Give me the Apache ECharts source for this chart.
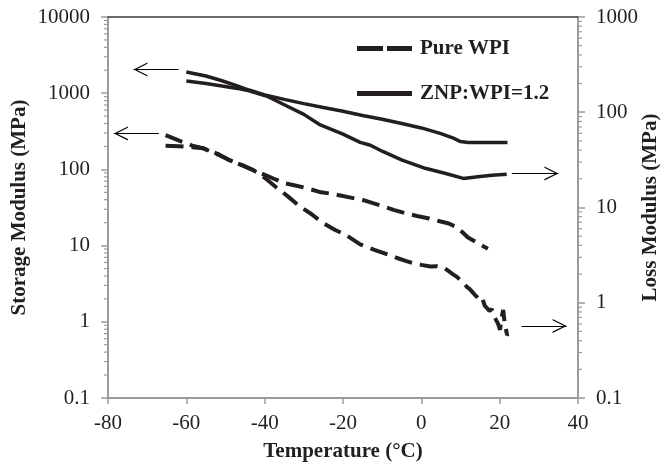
<!DOCTYPE html>
<html>
<head>
<meta charset="utf-8">
<script src="https://cdn.jsdelivr.net/npm/echarts@6/dist/echarts.min.js"></script>
<style>
html,body{margin:0;padding:0;background:#fff;}
#chart{width:661px;height:463px;}
</style>
</head>
<body>
<div id="chart"></div>
<script>
// ---- data ----
const xTicks = [-80, -60, -40, -20, 0, 20, 40];
const leftTickLabels = ['0.1', '1', '10', '100', '1000', '10000'];
const rightTickLabels = ['0.1', '1', '10', '100', '1000'];

const pureStorageT = [-65.3, -62, -58.5, -55.8, -52, -49, -45.5, -42.9, -40, -37.8, -35, -32.5, -30, -25.6, -23, -17.4, -14.4, -10, -7.1, -4, -1.1, 2, 4.7, 7, 9.1, 10.5, 11.9, 13.5, 15, 17];
const pureStorage  = [281, 240, 205, 190, 160, 132, 112, 97.5, 85, 76, 66, 62, 58, 50, 48, 42, 39, 33, 29.5, 26.5, 24.5, 22.7, 20.9, 19.5, 17.4, 15, 12.8, 11.5, 10.3, 9.1];

const pureLossT = [-65.3, -62, -58.5, -55.8, -52, -49, -45.5, -42.9, -40, -37.3, -34, -31.2, -28, -25.4, -22, -19.4, -15.6, -12, -8, -6.2, -4, -2.1, 0, 2.3, 4, 5.6, 7, 8, 9.1, 10, 10.8, 11.6, 12.3, 13, 13.6, 14.2, 15, 15.6, 16.2, 16.7, 17.4, 18, 18.6, 19.1, 19.6, 20.1, 20.5, 20.9, 21.3, 21.9, 22.2];
const pureLoss  = [44.5, 44, 43, 42, 36, 31.5, 27.5, 24.7, 20.5, 16.6, 13, 10.4, 8.5, 7.0, 5.8, 5.2, 4.1, 3.6, 3.15, 2.95, 2.75, 2.6, 2.5, 2.4, 2.42, 2.35, 2.15, 2.0, 1.87, 1.72, 1.62, 1.47, 1.40, 1.30, 1.22, 1.15, 1.05, 1.1, 0.93, 0.92, 0.82, 0.86, 0.72, 0.70, 0.60, 0.52, 0.70, 0.84, 0.60, 0.46, 0.47];

const znpStorageT = [-60, -55, -51.3, -47, -44, -40, -35, -30, -25, -20, -15, -10, -5, 0, 5, 8, 10, 12, 15, 22];
const znpStorage  = [1900, 1680, 1480, 1250, 1100, 950, 830, 730, 650, 580, 510, 455, 400, 350, 295, 260, 232, 226, 226, 226];

const znpLossT = [-60, -55, -51.3, -47, -44, -40, -38.6, -35, -30, -25.8, -20, -15.6, -13, -10, -4.9, 1, 6, 10.7, 15, 18, 21.8];
const znpLoss  = [213, 200, 190, 178, 168, 150, 142, 120, 95, 73.5, 59, 48.3, 45, 39, 31.5, 25.8, 22.9, 20.2, 21.2, 21.8, 22.4];

// arrow annotations [tail, tip] in data coordinates
const arrowZnpStorage  = [[-62, 2050], [-73.5, 2050]];
const arrowPureStorage = [[-67, 297], [-78.5, 297]];
const arrowZnpLoss     = [[23.1, 22.8], [35.0, 22.8]];
const arrowPureLoss    = [[25.6, 0.571], [37.1, 0.571]];

const seriesNames = ['Pure WPI', 'ZNP:WPI=1.2'];

// ---- helpers ----
const zip = (a, b) => a.map((v, i) => [v, b[i]]);
const minorVals = (lo, hi) => {
  const out = [];
  for (let d = lo; d < hi; d *= 10) for (let k = 2; k <= 9; k++) out.push(+(d * k).toPrecision(3));
  return out;
};
const FONT = "'Liberation Serif', 'Times New Roman', serif";
const TXT = '#231f20';
const AX = '#9b9b9b';
const LINE = '#231f20';
const chevron = 'path://M7.5,0 L15,13 L13.6,13 L7.5,2.4 L1.4,13 L0,13 Z';
const arrowML = (a) => ({
  silent: true,
  symbol: ['none', chevron],
  symbolSize: 14,
  symbolOffset: [[0, 0], [0, 7]],
  label: { show: false },
  lineStyle: { color: '#000', width: 1, type: 'solid' },
  emphasis: { disabled: true },
  data: [[{ coord: a[0] }, { coord: a[1] }]]
});
const fmt = (v) => String(+(+v).toPrecision(4));

const chart = echarts.init(document.getElementById('chart'), null, { renderer: 'canvas' });
chart.setOption({
  animation: false,
  backgroundColor: '#fff',
  textStyle: { fontFamily: FONT },
  grid: { left: 108, right: 83, top: 17, bottom: 65, containLabel: false, outerBoundsMode: 'none' },
  legend: {
    orient: 'vertical',
    left: 357, top: 38,
    padding: 0,
    itemWidth: 55, itemHeight: 5, itemGap: 24,
    selectedMode: false,
    textStyle: { fontFamily: FONT, fontSize: 21, fontWeight: 'bold', color: TXT, padding: [0, 0, 0, 3] },
    data: [
      { name: seriesNames[0], icon: 'path://M0,0 H26 V5 H0 Z M30,0 H55 V5 H30 Z', itemStyle: { color: LINE } },
      { name: seriesNames[1], icon: 'path://M0,0 H55 V5 H0 Z', itemStyle: { color: LINE } }
    ]
  },
  xAxis: [{
    type: 'value', min: xTicks[0], max: xTicks[xTicks.length - 1], interval: 20,
    name: 'Temperature (°C)', nameLocation: 'middle', nameGap: 43, nameMoveOverlap: false,
    nameTextStyle: { fontFamily: FONT, fontSize: 21, fontWeight: 'bold', color: TXT },
    axisLine: { onZero: false, lineStyle: { color: AX, width: 2 } },
    axisTick: { show: true, inside: false, length: 6, lineStyle: { color: AX, width: 1.5 } },
    axisLabel: { fontFamily: FONT, fontSize: 21, color: TXT, margin: 15 },
    splitLine: { show: false }
  }, {
    type: 'value', position: 'top', min: -80, max: 40,
    axisLine: { show: true, onZero: false, lineStyle: { color: '#3a3a3a', width: 1.5 } },
    axisTick: { show: false }, axisLabel: { show: false }, splitLine: { show: false }
  }],
  yAxis: [{
    type: 'log', logBase: 10, min: 0.1, max: 10000, position: 'left',
    name: 'Storage Modulus (MPa)', nameLocation: 'middle', nameRotate: 90, nameGap: 78, nameMoveOverlap: false,
    nameTextStyle: { fontFamily: FONT, fontSize: 21, fontWeight: 'bold', color: TXT },
    axisLine: { show: true, onZero: false, lineStyle: { color: AX, width: 2 } },
    axisTick: { show: true, inside: false, length: 7, lineStyle: { color: AX, width: 1.5 } },
    axisLabel: { fontFamily: FONT, fontSize: 21, color: TXT, margin: 18, formatter: fmt },
    splitLine: { show: false }
  }, {
    type: 'log', logBase: 10, min: 0.1, max: 1000, position: 'right',
    name: 'Loss Modulus (MPa)', nameLocation: 'middle', nameRotate: 90, nameGap: 62, nameMoveOverlap: false,
    nameTextStyle: { fontFamily: FONT, fontSize: 21, fontWeight: 'bold', color: TXT },
    axisLine: { show: true, onZero: false, lineStyle: { color: AX, width: 2 } },
    axisTick: { show: true, inside: false, length: 7, lineStyle: { color: AX, width: 1.5 } },
    axisLabel: { fontFamily: FONT, fontSize: 21, color: TXT, margin: 18, formatter: fmt },
    splitLine: { show: false }
  }],
  series: [
    {
      name: seriesNames[0], type: 'line', xAxisIndex: 0, yAxisIndex: 0,
      data: zip(pureStorageT, pureStorage), symbol: 'none', showSymbol: false,
      itemStyle: { color: LINE },
      lineStyle: { color: LINE, width: 4, type: [18, 8] },
      markLine: arrowML(arrowPureStorage)
    },
    {
      name: seriesNames[0], type: 'line', xAxisIndex: 0, yAxisIndex: 1,
      data: zip(pureLossT, pureLoss), symbol: 'none', showSymbol: false,
      itemStyle: { color: LINE },
      lineStyle: { color: LINE, width: 4, type: [18, 8] },
      markLine: arrowML(arrowPureLoss)
    },
    {
      name: seriesNames[1], type: 'line', xAxisIndex: 0, yAxisIndex: 0,
      data: zip(znpStorageT, znpStorage), symbol: 'none', showSymbol: false,
      itemStyle: { color: LINE },
      lineStyle: { color: LINE, width: 3.5, type: 'solid' },
      markLine: arrowML(arrowZnpStorage)
    },
    {
      name: seriesNames[1], type: 'line', xAxisIndex: 0, yAxisIndex: 1,
      data: zip(znpLossT, znpLoss), symbol: 'none', showSymbol: false,
      itemStyle: { color: LINE },
      lineStyle: { color: LINE, width: 3.5, type: 'solid' },
      markLine: arrowML(arrowZnpLoss)
    },
    {
      name: 'minorLeft', type: 'custom', xAxisIndex: 0, yAxisIndex: 0, silent: true,
      data: minorVals(0.1, 10000).map(v => [-80, v]),
      renderItem: (params, api) => {
        const p = api.coord([api.value(0), api.value(1)]);
        return { type: 'line', shape: { x1: p[0] - 4, y1: p[1], x2: p[0], y2: p[1] }, style: { stroke: AX, lineWidth: 1.2 } };
      }
    },
    {
      name: 'minorRight', type: 'custom', xAxisIndex: 0, yAxisIndex: 1, silent: true,
      data: minorVals(0.1, 1000).map(v => [40, v]),
      renderItem: (params, api) => {
        const p = api.coord([api.value(0), api.value(1)]);
        return { type: 'line', shape: { x1: p[0], y1: p[1], x2: p[0] + 4, y2: p[1] }, style: { stroke: AX, lineWidth: 1.2 } };
      }
    }
  ]
});
</script>
</body>
</html>
